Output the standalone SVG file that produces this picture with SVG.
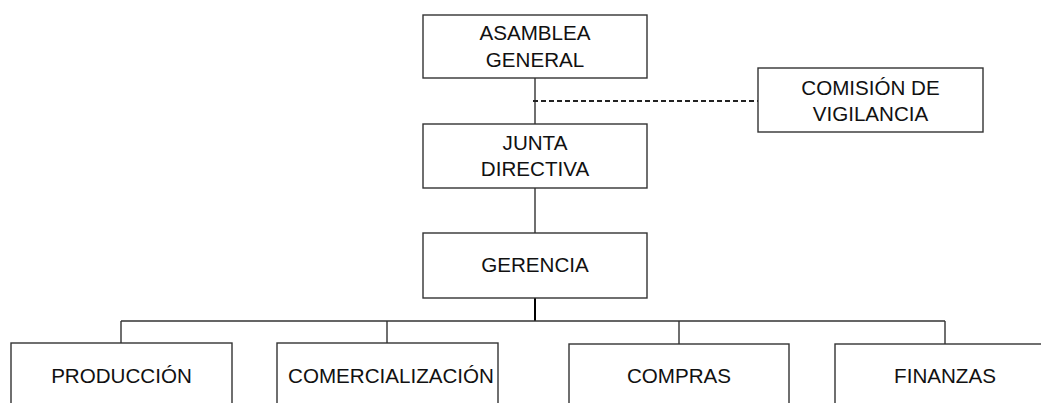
<svg xmlns="http://www.w3.org/2000/svg" width="1050" height="403" viewBox="0 0 1050 403">
<style>
.box{fill:#fff;stroke:#333;stroke-width:1.4}
.t{font-family:"Liberation Sans",Arial,sans-serif;font-size:20.6px;fill:#111;text-anchor:middle}
.c{fill:none;stroke:#333;stroke-width:1.4}
.thick{fill:none;stroke:#000;stroke-width:2}
.dash{fill:none;stroke:#222;stroke-width:2;stroke-dasharray:5 3}
</style>
<defs><clipPath id="clip"><rect x="0" y="0" width="1041" height="403"/></clipPath></defs>
<rect width="1050" height="403" fill="#fff"/>
<g clip-path="url(#clip)">
<g id="connectors">
<path class="c" d="M535,78V124M535,188V233"/>
<path class="dash" d="M533,101H758"/>
<path class="thick" d="M535,298V321"/>
<path class="c" d="M121,321H945M121,321V343M387,321V343M679,321V344M945,321V344"/>
</g>
<g id="asamblea"><rect class="box" x="423" y="15" width="224" height="63"/><text class="t" x="535" y="40">ASAMBLEA</text><text class="t" x="535" y="67">GENERAL</text></g>
<g id="comision"><rect class="box" x="758" y="68" width="225" height="64"/><text class="t" x="870.5" y="95">COMISIÓN DE</text><text class="t" x="870.5" y="121">VIGILANCIA</text></g>
<g id="junta"><rect class="box" x="423" y="124" width="224" height="64"/><text class="t" x="535" y="150">JUNTA</text><text class="t" x="535" y="176">DIRECTIVA</text></g>
<g id="gerencia"><rect class="box" x="423" y="233" width="224" height="65"/><text class="t" x="535" y="272">GERENCIA</text></g>
<g id="produccion"><rect class="box" x="11" y="343" width="221" height="70"/><text class="t" x="121.5" y="383">PRODUCCIÓN</text></g>
<g id="comercializacion"><rect class="box" x="277" y="343" width="221" height="70"/><text class="t" x="391" y="383">COMERCIALIZACIÓN</text></g>
<g id="compras"><rect class="box" x="569" y="344" width="220" height="70"/><text class="t" x="679" y="383">COMPRAS</text></g>
<g id="finanzas"><rect class="box" x="835" y="344" width="220" height="70"/><text class="t" x="945" y="383">FINANZAS</text></g>
</g>
</svg>
